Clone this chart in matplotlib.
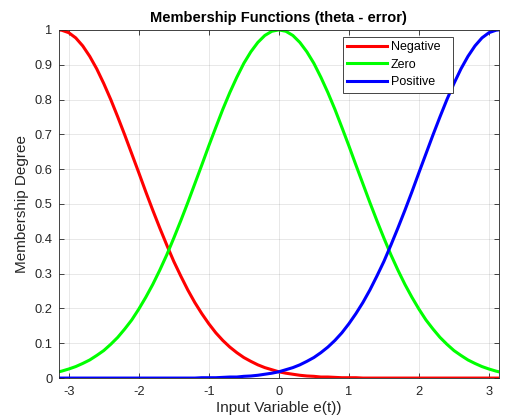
import numpy as np
import matplotlib
matplotlib.use('Agg')
import matplotlib.pyplot as plt

plt.rcParams['font.family'] = ['Liberation Sans', 'DejaVu Sans']
plt.rcParams['axes.unicode_minus'] = False

# sample points of the input range e(t): -pi, -3.1 .. 3.1, pi
x_pts = [-np.pi] + [round(-3.1 + 0.1 * k, 1) for k in range(63)] + [np.pi]

# membership degrees along x_pts
mu_negative = [1.000,
               0.999, 0.992, 0.977, 0.954, 0.924, 0.888, 0.846, 0.800, 0.750, 0.698,
               0.644, 0.590, 0.535, 0.482, 0.431, 0.382, 0.335, 0.293, 0.253, 0.217,
               0.185, 0.156, 0.130, 0.108, 0.089, 0.073, 0.059, 0.048, 0.038, 0.030,
               0.024, 0.018, 0.014, 0.011, 0.008, 0.006, 0.005, 0.003, 0.003, 0.002,
               0.001, 0.001, 0.001, 0.000, 0.000, 0.000, 0.000, 0.000, 0.000, 0.000,
               0.000, 0.000, 0.000, 0.000, 0.000, 0.000, 0.000, 0.000, 0.000, 0.000,
               0.000, 0.000, 0.000,
               0.000]
mu_zero = [0.018,
           0.020, 0.026, 0.033, 0.042, 0.052, 0.065, 0.079, 0.097, 0.117, 0.141,
           0.167, 0.198, 0.232, 0.269, 0.310, 0.354, 0.402, 0.452, 0.504, 0.558,
           0.612, 0.667, 0.720, 0.772, 0.820, 0.864, 0.904, 0.937, 0.964, 0.984,
           0.996, 1.000, 0.996, 0.984, 0.964, 0.937, 0.904, 0.864, 0.820, 0.772,
           0.720, 0.667, 0.612, 0.558, 0.504, 0.452, 0.402, 0.354, 0.310, 0.269,
           0.232, 0.198, 0.167, 0.141, 0.117, 0.097, 0.079, 0.065, 0.052, 0.042,
           0.033, 0.026, 0.020,
           0.018]
mu_positive = mu_negative[::-1]

labels = ['Negative', 'Zero', 'Positive']
colors = ['#ff0000', '#00ff00', '#0000ff']

x_ticks = [-3, -2, -1, 0, 1, 2, 3]
y_ticks = [0, 0.1, 0.2, 0.3, 0.4, 0.5, 0.6, 0.7, 0.8, 0.9, 1]
y_ticklabels = ['0', '0.1', '0.2', '0.3', '0.4', '0.5', '0.6', '0.7', '0.8', '0.9', '1']

fig = plt.figure(figsize=(5.07, 4.15), dpi=100)
ax = fig.add_axes([0.116, 0.089, 0.868, 0.839])

for mu, lab, col in zip([mu_negative, mu_zero, mu_positive], labels, colors):
    ax.plot(x_pts, mu, color=col, lw=2.2, label=lab, solid_joinstyle='round')

ax.set_xlim(-np.pi, np.pi)
ax.set_ylim(0, 1)
ax.set_xticks(x_ticks)
ax.set_yticks(y_ticks)
ax.set_yticklabels(y_ticklabels)
ax.tick_params(direction='in', length=3.5, width=0.6, top=True, right=True,
               labelsize=9.3, colors='#262626')
ax.tick_params(axis='x', pad=6)
ax.tick_params(axis='y', pad=4.5)
for s in ax.spines.values():
    s.set_color('#262626')
    s.set_linewidth(0.6)
ax.grid(True, color='#262626', alpha=0.12, lw=0.6)

ax.set_title('Membership Functions (theta - error)', fontsize=10.5,
             fontweight='bold', pad=6)
ax.set_xlabel('Input Variable e(t))', fontsize=11, color='#262626', labelpad=2)
ax.set_ylabel('Membership Degree', fontsize=11, color='#262626', labelpad=4)

# legend box stretched to a fixed width, entries stay left-aligned
leg = ax.legend(loc='upper left', bbox_to_anchor=(0.645, 0.5, 0.25, 0.48),
                mode='expand', fontsize=9,
                fancybox=False, framealpha=1, edgecolor='#262626',
                handlelength=3.2, handletextpad=0.3, labelspacing=0.45,
                borderpad=0.35, borderaxespad=0)
leg.get_frame().set_linewidth(0.6)

fig.savefig('out.png', dpi=100)
